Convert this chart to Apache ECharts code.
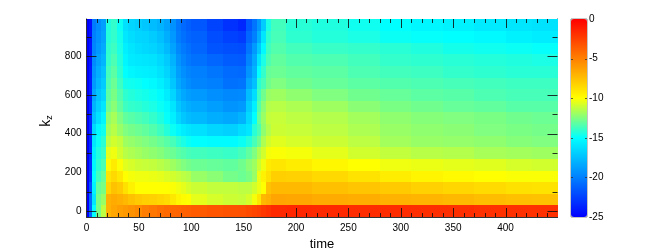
<!DOCTYPE html>
<html><head><meta charset="utf-8">
<script src="https://cdn.jsdelivr.net/npm/echarts@6/dist/echarts.min.js"></script>
<style>html,body{margin:0;padding:0;background:#fff}#c{width:664px;height:251px}</style>
</head><body><div id="c"></div>
<script>
const timeEdges=[0,2,5,9,14,19,23,29,35,40,46,53,60,67,74,80,85,90,95,100,115,130,145,152,158,163,167,171,176,190,215,250,280,310,340,370,400,425,450];
const kz=[0,60,120,180,240,300,360,420,480,540,600,660,720,780,840,900,960];
const band0=[-25,-21,-15,-12.6,-11.3,-7,-6.5,-6.2,-6,-5.7,-5.4,-4.9,-4.6,-4.3,-4.1,-4,-3.9,-3.8,-3.7,-3.5,-3.3,-3.2,-3.1,-2.9,-2.7,-2.5,-2.2,-1.9,-1.6,-1.5,-1.6,-1.7,-1.7,-1.8,-1.8,-1.9,-1.9,-1.9];
const band60=[-25,-21,-16,-12.6,-12,-7,-6.7,-6.9,-7.2,-7.6,-7.9,-8.1,-8.2,-8.4,-8.6,-9.1,-9.6,-9.9,-10,-10.5,-10.8,-11,-11.1,-10.8,-10.2,-9,-7.2,-6.9,-6.4,-6.5,-6.7,-6.8,-7,-7.1,-7.2,-7.4,-7.5,-7.6];
const band120=[-25,-22,-15.5,-13,-12.6,-8.4,-7.6,-7.9,-8.8,-9.5,-10,-10,-10,-10,-10,-10.1,-10.3,-10.5,-10.8,-11,-11.2,-11.2,-11.3,-11.3,-10.9,-10.4,-10,-7.6,-7.3,-7.3,-7.5,-7.7,-7.9,-8.2,-8.4,-8.6,-8.8,-8.9];
const band180=[-25,-23,-15,-13.7,-13,-9,-8.5,-9.1,-10,-10.2,-10.3,-10.3,-10.4,-10.5,-10.7,-10.9,-11.1,-11.3,-11.5,-12,-12.3,-12.7,-12.9,-12.6,-12,-10.4,-9.5,-8.8,-8.1,-8.2,-8.5,-8.9,-9.3,-9.6,-9.8,-10,-10.1,-10.1];
const band240=[-25,-23.2,-15.3,-14.1,-13.5,-9.9,-9.2,-10.1,-10.6,-10.8,-11,-11.1,-11.2,-11.4,-11.6,-11.9,-12.2,-12.5,-12.7,-12.9,-13,-13.1,-12.8,-12.3,-11.9,-11,-10.3,-9.2,-9,-9.3,-9.7,-10,-10.3,-10.4,-10.5,-10.6,-10.8,-10.9];
const band300=[-25,-23.4,-15.6,-14.4,-13.9,-10.5,-10.3,-10.9,-11.4,-11.6,-11.8,-12,-12.2,-12.4,-12.7,-12.9,-13.2,-13.4,-13.6,-13.7,-13.8,-13.9,-13.6,-13.1,-12.5,-11.6,-10.9,-10.2,-10.1,-10.2,-10.5,-10.9,-11.2,-11.4,-11.5,-11.7,-11.8,-11.9];
const band360=[-25,-23.5,-16,-14.8,-14.2,-11.3,-10.9,-11.2,-11.9,-12.1,-12.3,-12.5,-12.7,-13,-13.3,-13.6,-14.1,-14.5,-14.8,-15,-15.1,-15.1,-14.8,-14.3,-13.6,-12.8,-11.6,-10.9,-10.6,-10.8,-11,-11.3,-11.8,-12,-12.1,-12.2,-12.4,-12.5];
const band420=[-25,-23.5,-16.5,-15.2,-14.7,-11.8,-11.4,-12,-12.5,-12.7,-12.9,-13.1,-13.4,-13.8,-14.3,-14.8,-15.3,-15.7,-16,-16.2,-16.6,-16.8,-16.3,-15.9,-14.2,-13.5,-12.2,-11.5,-11,-11.1,-11.3,-11.6,-12,-12.2,-12.3,-12.5,-12.6,-12.7];
const band480=[-25,-23.5,-17.5,-16.2,-15.3,-12.2,-11.7,-12.5,-13.1,-13.3,-13.5,-13.7,-14,-14.4,-14.9,-15.6,-16.6,-17.2,-17.6,-17.8,-18.2,-18.4,-18,-16.5,-15,-13,-12,-11.2,-11.1,-11.3,-11.5,-11.8,-12.2,-12.4,-12.5,-12.6,-12.8,-12.9];
const band540=[-25,-23.7,-18,-16.8,-16,-12.9,-12.3,-13.1,-13.8,-14,-14.1,-14.3,-14.5,-14.8,-15.2,-16,-17.2,-17.8,-18.2,-18.4,-18.8,-19.2,-19,-17,-15.6,-13.4,-12.3,-11.5,-11.4,-11.6,-11.9,-12.3,-12.6,-12.8,-13,-13.1,-13.3,-13.3];
const band600=[-25,-23.9,-18.5,-17.3,-16.6,-13.2,-12.6,-13.4,-14.1,-14.3,-14.5,-14.6,-14.8,-15.1,-15.7,-16.6,-17.8,-18.4,-18.8,-19,-19.4,-19.7,-19.6,-17.6,-16.3,-13.8,-12.8,-12,-11.9,-12.2,-12.5,-12.8,-13,-13.2,-13.3,-13.5,-13.6,-13.6];
const band660=[-25,-24,-19,-17.8,-17,-13.5,-12.9,-13.8,-14.6,-14.7,-14.8,-15,-15.2,-15.6,-16.2,-17.2,-18.4,-19,-19.5,-19.8,-20,-20.6,-20.5,-18.5,-17.5,-14.2,-13.6,-12.8,-12.5,-12.8,-13,-13.2,-13.4,-13.5,-13.6,-13.7,-13.8,-13.8];
const band720=[-25,-24.1,-19.3,-18.2,-17.4,-13.7,-13.2,-14.1,-15,-15.3,-15.5,-15.6,-15.7,-16.1,-16.7,-17.6,-18.8,-19.4,-19.8,-20,-20.4,-20.8,-20.9,-19.2,-18,-15,-14,-13,-12.9,-13.1,-13.2,-13.5,-13.7,-13.8,-14,-14.1,-14.2,-14.2];
const band780=[-25,-24.2,-19.6,-18.6,-17.9,-14,-13.5,-14.3,-15.3,-15.8,-15.9,-16,-16.1,-16.5,-17.1,-18,-19.2,-19.8,-20.3,-20.6,-21,-21.4,-21.5,-19.8,-18.4,-16,-14.5,-13.5,-13.1,-13.4,-13.5,-13.7,-14,-14.1,-14.2,-14.3,-14.4,-14.5];
const band840=[-25,-24.3,-19.9,-19,-18.3,-14.1,-13.8,-14.5,-15.6,-16,-16.3,-16.5,-16.7,-17.1,-17.7,-18.6,-19.7,-20.2,-20.6,-21,-21.7,-21.9,-22,-20.4,-19,-17.2,-15.2,-13.8,-13.4,-13.7,-13.9,-14,-14.2,-14.4,-14.6,-14.7,-14.8,-14.9];
const band900=[-25,-24.4,-20,-19.3,-18.6,-14.3,-14,-14.6,-15.9,-16.3,-16.6,-16.7,-17,-17.5,-18.2,-19,-20.1,-20.6,-21,-21.2,-22,-22.5,-22.7,-21,-20,-18.2,-16,-14.1,-13.6,-14.1,-14.3,-14.5,-14.8,-14.9,-15,-15.2,-15.5,-15.7];
const band960=[-25,-24.5,-20.2,-19.5,-18.8,-14.4,-14,-14.8,-16.2,-16.6,-16.9,-17.2,-17.6,-18,-18.6,-19.3,-20.3,-20.9,-21.3,-21.6,-22.4,-23.1,-23.5,-21.6,-20.5,-19,-17,-14.5,-13.7,-14.2,-14.4,-14.7,-15,-15.3,-15.5,-15.8,-16,-16.1];
const bands=[band0,band60,band120,band180,band240,band300,band360,band420,band480,band540,band600,band660,band720,band780,band840,band900,band960];
const xLabels=[0,50,100,150,200,250,300,350,400];
const yLabels=[0,200,400,600,800];
const xMajorTicks=[50,200,250,300,350,400];
const xMinorTicks=[10,20,30,40,60,70,80,90,190,210,220,230,240,260,270,280,290,310,320,330,340,360,370,380,390,410,420,430,440];
const yMajorTicks=[0,400,600,800];
const yMinorTicks=[100,300,500,900];
const colorbarTicks=[-20,-15,-10,-5];
const colorbarStops=['#0000ff','#0080ff','#00ffff','#ffff00','#ff8000','#ff0000'];

const bandHalf=30, ink='rgba(15,15,15,0.85)', font='"Liberation Sans", Arial, sans-serif';
const xMin=0,xMax=449.6,yMin=-30,yMax=992;
const cells=[];
bands.forEach((row,i)=>row.forEach((v,j)=>cells.push([timeEdges[j],timeEdges[j+1],kz[i],v])));
const tickLines=[];
xMajorTicks.forEach(v=>tickLines.push(['x',v,9]));
xMinorTicks.forEach(v=>tickLines.push(['x',v,4]));
yMajorTicks.forEach(v=>tickLines.push(['y',v,10]));
yMinorTicks.forEach(v=>tickLines.push(['y',v,5]));

function seg(x1,y1,x2,y2,color){
  return {type:'line',shape:{x1,y1,x2,y2},style:{stroke:color,lineWidth:1,fill:null},silent:true};
}
function xAxis(position,labels){
  return {type:'value',gridIndex:0,position,min:xMin,max:xMax,
    axisLine:{show:true,onZero:false,lineStyle:{color:ink,width:1}},
    axisTick:{show:false},
    axisLabel:labels?{show:true,customValues:xLabels,color:'#000',fontFamily:font,fontSize:10,margin:6}:{show:false},
    splitLine:{show:false},
    ...(labels?{name:'time',nameLocation:'middle',nameGap:20,nameTextStyle:{color:'#000',fontFamily:font,fontSize:13}}:{})};
}
function yAxis(position,labels){
  return {type:'value',gridIndex:0,position,min:yMin,max:yMax,
    axisLine:{show:true,onZero:false,lineStyle:{color:ink,width:1}},
    axisTick:{show:false},
    axisLabel:labels?{show:true,customValues:yLabels,color:'#000',fontFamily:font,fontSize:10,margin:5}:{show:false},
    splitLine:{show:false},
    ...(labels?{name:'{k|k}{z|z}',nameLocation:'middle',nameGap:24,nameTextStyle:{padding:[0,6,0,0],
      color:'#000',fontFamily:font,rich:{k:{fontSize:14,fontFamily:font,color:'#000',lineHeight:16},z:{fontSize:9,fontFamily:font,color:'#000',verticalAlign:'bottom',lineHeight:10}}}}:{})};
}
const chart=echarts.init(document.getElementById('c'),null,{renderer:'canvas'});
chart.setOption({
  animation:false,backgroundColor:'#fff',
  grid:[{left:86.5,top:19,width:471,height:198,outerBoundsMode:'none'},
        {left:571,top:19,width:16,height:198,outerBoundsMode:'none'}],
  xAxis:[xAxis('bottom',true),xAxis('top',false),
         {type:'value',gridIndex:1,min:0,max:1,show:false}],
  yAxis:[yAxis('left',true),yAxis('right',false),
         {type:'value',gridIndex:1,position:'right',min:-25,max:0,interval:5,
          axisLine:{show:false},axisTick:{show:false},
          axisLabel:{color:'#000',fontFamily:font,fontSize:10,margin:2,padding:[3,0,0,0]},
          splitLine:{show:false}}],
  visualMap:{type:'continuous',min:-25,max:0,dimension:3,seriesIndex:0,show:true,
    left:570.5,top:18.5,itemWidth:16,itemHeight:198,padding:0,text:['',''],textGap:0,
    calculable:false,hoverLink:false,borderColor:'#8c8c8c',borderWidth:1,
    inRange:{color:colorbarStops}},
  series:[{type:'custom',coordinateSystem:'cartesian2d',xAxisIndex:0,yAxisIndex:0,silent:true,z:1,
    encode:{x:[0,1],y:2},data:cells,
    renderItem(params,api){
      const a=api.coord([api.value(0),api.value(2)+bandHalf]);
      const b=api.coord([api.value(1),api.value(2)-bandHalf]);
      const x0=Math.round(a[0]),x1=Math.round(b[0]),y0=Math.round(a[1]),y1=Math.round(b[1]);
      return {type:'rect',shape:{x:x0,y:y0,width:x1-x0,height:y1-y0},style:{fill:api.visual('color')}};
    }},
    {type:'custom',coordinateSystem:'cartesian2d',xAxisIndex:0,yAxisIndex:0,silent:true,z:20,clip:false,
     dimensions:['axis','value','len'],data:tickLines,
     renderItem(params,api){
      const [kind,v,len]=tickLines[params.dataIndex];
      const sw=api.coord([xMin,yMin]),ne=api.coord([xMax,yMax]);
      if(kind==='x'){
        const x=Math.round(api.coord([v,yMin])[0])+0.5;
        return {type:'group',children:[seg(x,sw[1],x,sw[1]-len,ink),seg(x,ne[1],x,ne[1]+len,ink)]};
      }
      const y=Math.round(api.coord([xMin,v])[1])+0.5;
      return {type:'group',children:[seg(sw[0],y,sw[0]+len,y,ink),seg(ne[0],y,ne[0]-len,y,ink)]};
     }},
    {type:'custom',coordinateSystem:'cartesian2d',xAxisIndex:2,yAxisIndex:2,silent:true,z:20,clip:false,
     encode:{x:0,y:1},data:colorbarTicks.map(v=>[0,v]),
     renderItem(params,api){
      const p=api.coord([0,api.value(1)]),q=api.coord([1,api.value(1)]);
      const y=Math.round(p[1])+0.5;
      return {type:'group',children:[seg(p[0],y,p[0]+2,y,'rgba(40,40,40,0.7)'),seg(q[0],y,q[0]-2,y,'rgba(40,40,40,0.7)')]};
     }}]
});
</script></body></html>
